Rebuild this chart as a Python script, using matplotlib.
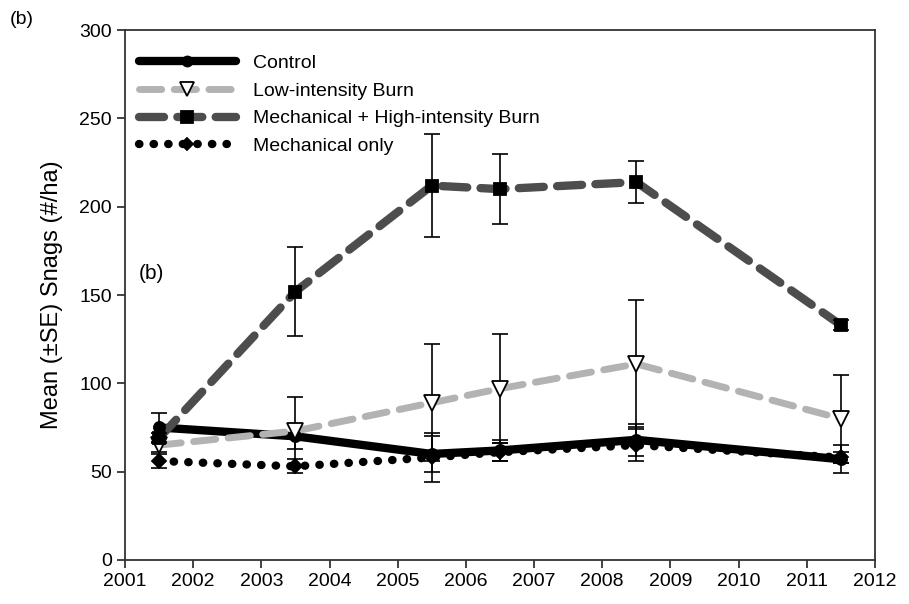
import matplotlib
matplotlib.use('Agg')
import matplotlib.pyplot as plt
import numpy as np

plt.rcParams['font.family'] = ['Liberation Sans', 'DejaVu Sans']

years = [2001.5, 2003.5, 2005.5, 2006.5, 2008.5, 2011.5]

control = [75, 70, 60, 62, 68, 57]
control_se = [8, 7, 10, 6, 9, 8]
low_burn = [65, 73, 89, 97, 111, 80]
low_burn_se = [4, 19, 33, 31, 36, 25]
mech_high = [69, 152, 212, 210, 214, 133]
mech_high_se = [3, 25, 29, 20, 12, 3]
mech_only = [56, 53, 58, 61, 65, 58]
mech_only_se = [4, 4, 14, 5, 9, 3]

labels = ['Control', 'Low-intensity Burn',
          'Mechanical + High-intensity Burn', 'Mechanical only']

fig = plt.figure(figsize=(9.09, 6.04), dpi=100)
ax = fig.add_axes([0.1375, 0.073, 0.825, 0.877])

# series: values, errors, line colour, line style, marker, face colour, size, width
series = [
    (control, control_se, 'black', '-', 'o', 'black', 8, 6),
    (low_burn, low_burn_se, '#b3b3b3', (0, (3.2, 1.8)), 'v', 'white', 11, 5),
    (mech_high, mech_high_se, '#4d4d4d', (0, (3.0, 1.6)), 's', 'black', 9, 6),
    (mech_only, mech_only_se, 'black', (0, (0.05, 1.7)), 'D', 'black', 7, 6),
]

for (vals, se, col, ls, mk, fc, ms, lw), lab in zip(series, labels):
    ax.plot(years, vals, color=col, linestyle=ls, linewidth=lw,
            dash_capstyle='round', solid_capstyle='round', zorder=2)
    ax.errorbar(years, vals, yerr=se, fmt='none', ecolor='black',
                elinewidth=1.2, capsize=5.5, capthick=1.2, zorder=3)
    ax.plot(years, vals, linestyle='none', marker=mk, markersize=ms,
            markerfacecolor=fc, markeredgecolor='black',
            markeredgewidth=1.3, zorder=4)
    # proxy for legend
    ax.plot([], [], color=col, linestyle=ls, linewidth=lw,
            dash_capstyle='round', solid_capstyle='round',
            marker=mk, markersize=ms * 0.9, markerfacecolor=fc,
            markeredgecolor='black', markeredgewidth=1.3, label=lab)

ax.set_xlim(2001, 2012)
ax.set_ylim(0, 300)
ax.set_xticks(np.arange(2001, 2013, 1))
ax.set_yticks(np.arange(0, 301, 50))
ax.tick_params(direction='out', length=6, width=1.2, labelsize=14,
               colors='#222222', labelcolor='black')
for sp in ax.spines.values():
    sp.set_linewidth(1.3)
    sp.set_color('#333333')

ax.set_ylabel('Mean (\u00b1SE) Snags (#/ha)', fontsize=17, labelpad=12)

leg = ax.legend(loc='upper left', frameon=False, fontsize=14,
                handlelength=5.0, handletextpad=0.9, labelspacing=0.52,
                borderaxespad=0.3, bbox_to_anchor=(0.0, 0.98))

ax.text(2001.2, 162, '(b)', fontsize=15, va='center')
fig.text(0.011, 0.968, '(b)', fontsize=14, va='center')

fig.savefig('out.png', dpi=100)
